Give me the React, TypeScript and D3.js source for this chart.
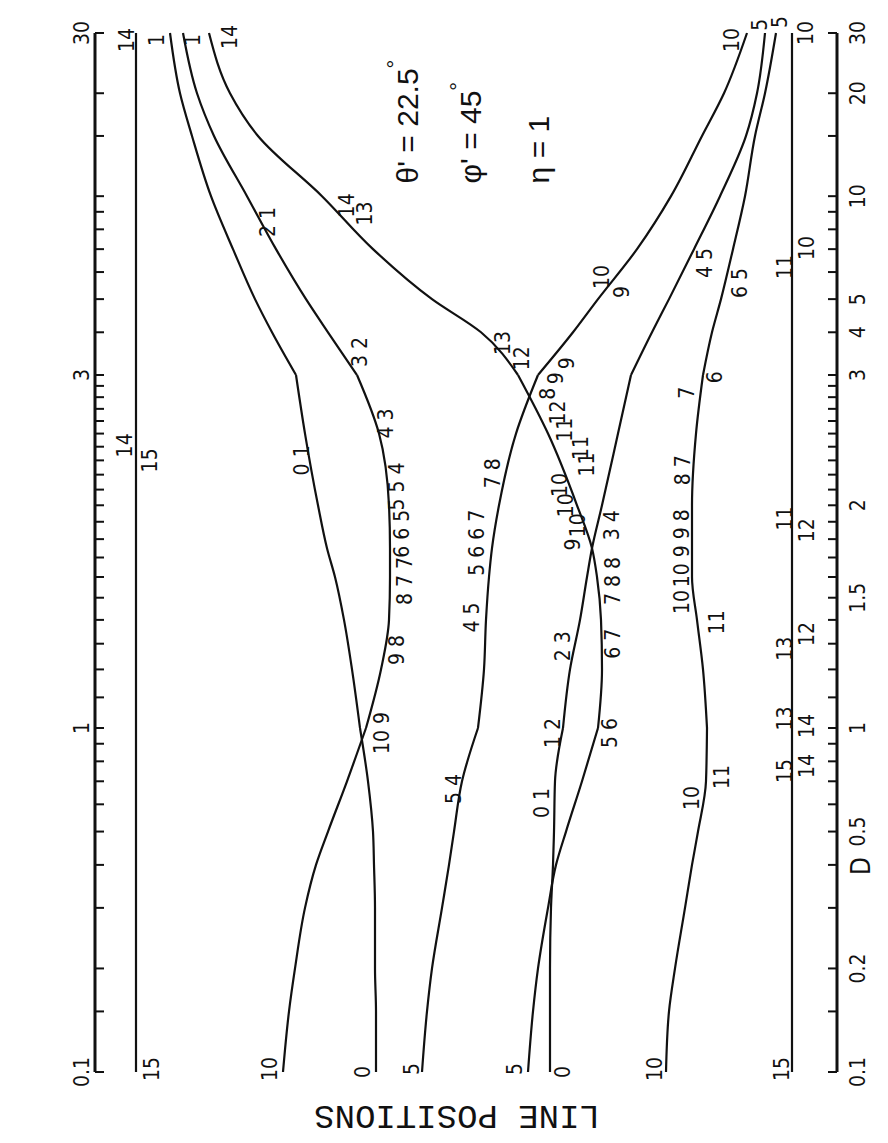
import React from "react";
import * as d3 from "d3";

const W = 888;
const H = 1143;

const dValues = [0.1, 0.15, 0.2, 0.3, 0.4, 0.5, 0.7, 1, 1.2, 1.4, 1.6, 1.75, 2, 2.5, 3, 4, 5, 7, 10, 15, 20, 30];

// line positions (arbitrary units) of each curve at dValues
const curveA = [28.1, 28.1, 28.0, 28.0, 27.9, 27.8, 27.3, 26.5, 25.7, 24.9, 24.0, 23.2, 22.3, 21.0, 20.1, 17.7, 16.0, 13.8, 11.6, 9.7, 8.5, 7.5];
const curveB = [18.8, 19.4, 20.0, 21.0, 22.1, 23.3, 25.2, 27.1, 28.6, 29.4, 29.5, 29.5, 29.4, 28.4, 26.2, 23.3, 21.1, 18.1, 15.2, 11.9, 10.2, 8.8];
const curveC = [43.3, 43.8, 44.3, 45.3, 46.1, 47.1, 48.7, 50.3, 50.7, 50.6, 50.2, 49.7, 48.2, 45.3, 42.3, 38.6, 33.7, 27.8, 22.7, 16.3, 13.5, 11.4];
const curveD = [45.5, 45.5, 45.5, 45.6, 45.8, 45.9, 46.0, 46.8, 47.5, 48.5, 49.2, 49.7, 50.7, 52.3, 53.6, 55.7, 57.4, 59.9, 62.5, 65.1, 66.2, 67.0];
const curveE = [32.7, 33.2, 33.7, 34.7, 35.4, 35.9, 36.7, 38.3, 38.9, 39.1, 39.4, 39.7, 40.4, 42.1, 44.3, 47.8, 50.3, 54.2, 57.6, 60.7, 62.9, 65.2];
const curveF = [57.1, 57.4, 58.0, 59.0, 59.7, 60.3, 61.1, 61.2, 60.8, 60.2, 59.7, 59.7, 59.7, 60.1, 60.8, 61.7, 62.6, 63.8, 65.0, 66.0, 67.0, 68.1];

// the two lines that do not move
const flatD = [0.1, 30];
const flatLeft = [4.1, 4.1];
const flatRight = [69.7, 69.7];

// D axis
const tickValues = [0.1, 0.15, 0.2, 0.3, 0.4, 0.5, 0.6, 0.7, 0.8, 0.9, 1, 1.1, 1.2, 1.3, 1.4, 1.5, 1.6, 1.7, 1.8, 1.9, 2, 2.1, 2.2, 2.3, 2.4, 2.5, 2.6, 2.7, 2.8, 2.9, 3, 4, 5, 6, 7, 8, 9, 10, 15, 20, 30];
const leftLabels = [0.1, 1, 3, 30];
const rightLabels = [0.1, 0.2, 0.5, 1, 1.5, 2, 3, 4, 5, 10, 20, 30];

// transition labels along the curves: [text, position, D]
const curveLabels: [string, number, number][] = [
  ["14", 3.2, 28.6], ["1", 6.2, 28.6], ["1", 9.8, 28.6], ["14", 13.5, 29.2],
  ["10", 63.7, 28.6], ["5", 66.5, 31.7], ["5", 68.5, 32.3], ["10", 71.1, 30],
  ["15", 5.7, 0.102], ["10", 17.5, 0.102], ["0", 26.8, 0.1], ["5", 31.7, 0.102],
  ["5", 42.0, 0.102], ["0", 46.8, 0.1], ["10", 56.0, 0.102], ["15", 68.7, 0.102],
  ["14", 3.0, 2.41], ["15", 5.5, 2.3],
  ["2 1", 17.3, 8.4], ["14", 25.2, 9.4], ["13", 27.0, 8.9],
  ["0 1", 20.7, 2.3], ["3 2", 26.5, 3.5], ["4 3", 29.1, 2.58],
  ["5 5 4", 30.2, 2.12], ["6 6 5", 30.7, 1.83], ["8 7 7", 31.0, 1.58],
  ["9 8", 30.2, 1.275], ["10 9", 28.7, 0.967],
  ["13", 40.8, 3.72], ["12", 42.7, 3.36],
  ["9", 47.8, 1.77], ["10", 48.3, 1.88], ["10", 47.1, 2.0], ["10", 46.5, 2.13],
  ["11", 49.2, 2.27], ["11", 48.6, 2.39], ["11", 47.0, 2.53], ["12", 46.3, 2.67],
  ["8", 45.3, 2.83], ["9", 46.1, 2.97], ["9", 47.2, 3.25],
  ["10", 50.7, 5.8], ["9", 52.7, 5.25],
  ["7 8", 39.8, 2.21], ["5 6 6 7", 38.2, 1.78], ["4 5", 37.7, 1.41], ["5 4", 35.9, 0.665],
  ["4 5", 61.0, 6.38], ["3 4", 51.7, 1.88], ["2 3", 46.8, 1.29], ["1 2", 45.8, 0.967], ["0 1", 44.7, 0.605],
  ["7 8 8", 51.8, 1.58], ["6 7", 51.8, 1.3], ["5 6", 51.5, 0.967],
  ["6 5", 64.5, 5.57], ["6", 62.0, 2.98], ["7", 59.2, 2.84], ["8 7", 58.8, 2.23],
  ["10 9 9 8", 58.7, 1.75], ["10", 58.7, 1.48], ["11", 62.2, 1.39], ["11", 62.7, 0.72], ["10", 59.7, 0.626],
  ["11", 69.0, 6.21], ["10", 71.2, 7.05], ["11", 69.0, 1.92], ["12", 71.2, 1.85],
  ["12", 71.2, 1.34], ["13", 69.0, 1.28], ["13", 69.0, 1.03], ["14", 71.2, 1.006],
  ["14", 71.2, 0.775], ["15", 69.0, 0.75],
];

// parameters written on the plot: [main text, superscript, position]
const params: [string, string, number][] = [
  ["\u03b8' = 22.5", "\u00b0", 31.2],
  ["\u03c6' = 45", "\u00b0", 37.5],
  ["\u03b7 = 1", "", 44.3],
];
const paramD = 10.9;

const numFont = "'Liberation Sans Narrow', 'DejaVu Sans Condensed', 'Liberation Sans', sans-serif";

export default function App() {
  // D runs up the page; the original plot stretches the range 1..3
  const y = d3.scaleLog().domain([0.1, 1, 3, 30]).range([1072, 728, 375, 33]);
  const x = d3.scaleLinear().domain([0, 74.2]).range([95, 837]);
  const axisLeft = x(0);
  const axisRight = x(74.2);

  const line = d3
    .line<[number, number]>()
    .x((p) => p[0])
    .y((p) => p[1])
    .curve(d3.curveMonotoneY);

  const pieces = (vals: number[], ds: number[]) => {
    const pts = ds.map((d, i) => ({ d, p: [x(vals[i]), y(d)] as [number, number] }));
    const parts = [
      pts.filter((q) => q.d <= 1),
      pts.filter((q) => q.d >= 1 && q.d <= 3),
      pts.filter((q) => q.d >= 3),
    ];
    return parts
      .filter((s) => s.length > 1)
      .map((s) => line(s.map((q) => q.p).reverse()) as string);
  };

  const curves = [curveA, curveB, curveC, curveD, curveE, curveF];
  const paths: string[] = [];
  curves.forEach((c) => paths.push(...pieces(c, dValues)));
  paths.push(line(flatD.map((d, i) => [x(flatLeft[i]), y(d)] as [number, number])) as string);
  paths.push(line(flatD.map((d, i) => [x(flatRight[i]), y(d)] as [number, number])) as string);

  const rot = (px: number, py: number, deg = -90) => `translate(${px},${py}) rotate(${deg})`;
  const fmt = (v: number) => String(v);

  return (
    <svg
      width={W}
      height={H}
      style={{ position: "absolute", left: 0, top: 0, background: "#fff" }}
    >
      <rect width={W} height={H} fill="#fff" />

      {/* D axes, left and right */}
      <g stroke="#111" strokeWidth={2}>
        <line x1={axisLeft} x2={axisLeft} y1={y(30)} y2={y(0.1)} strokeWidth={3} />
        <line x1={axisRight} x2={axisRight} y1={y(30)} y2={y(0.1)} strokeWidth={3} />
        {tickValues.map((t) => (
          <g key={t}>
            <line x1={axisLeft} x2={axisLeft + 9} y1={y(t)} y2={y(t)} />
            <line x1={axisRight} x2={axisRight - 9} y1={y(t)} y2={y(t)} />
          </g>
        ))}
      </g>
      <g fontFamily={numFont} fontSize={21} fill="#111">
        {leftLabels.map((t) => (
          <text key={t} transform={rot(axisLeft - 13, y(t))} textAnchor="middle" dominantBaseline="central">
            {fmt(t)}
          </text>
        ))}
        {rightLabels.map((t) => (
          <text key={t} transform={rot(axisRight + 21, y(t))} textAnchor="middle" dominantBaseline="central">
            {fmt(t)}
          </text>
        ))}
        <text transform={rot(axisRight + 24, 866)} textAnchor="middle" dominantBaseline="central" fontSize={26}>
          D
        </text>
      </g>

      {/* curves */}
      <g fill="none" stroke="#111" strokeWidth={2.2} strokeLinejoin="round">
        {paths.map((p, i) => (
          <path key={i} d={p} />
        ))}
      </g>

      {/* transition labels */}
      <g fontFamily={numFont} fontSize={21} fill="#111">
        {curveLabels.map(([t, px, d], i) => (
          <text key={i} transform={rot(x(px), y(d))} textAnchor="middle" dominantBaseline="central">
            {t}
          </text>
        ))}
      </g>

      {/* parameters */}
      <g fontFamily="'Liberation Sans', Arial, sans-serif" fontSize={30} fill="#111">
        {params.map(([t, sup, px]) => (
          <text key={t} transform={rot(x(px), y(paramD))} dominantBaseline="central">
            {t}
            {sup && (
              <tspan dy={-12} fontSize={22}>
                {sup}
              </tspan>
            )}
          </text>
        ))}
      </g>

      {/* axis title, upside down as on the rotated page */}
      <text
        transform={rot(457, 1115, 180)}
        textAnchor="middle"
        dominantBaseline="central"
        fontFamily="'Liberation Mono', 'DejaVu Sans Mono', monospace"
        fontSize={34}
        fill="#111"
      >
        LINE POSITIONS
      </text>
    </svg>
  );
}
